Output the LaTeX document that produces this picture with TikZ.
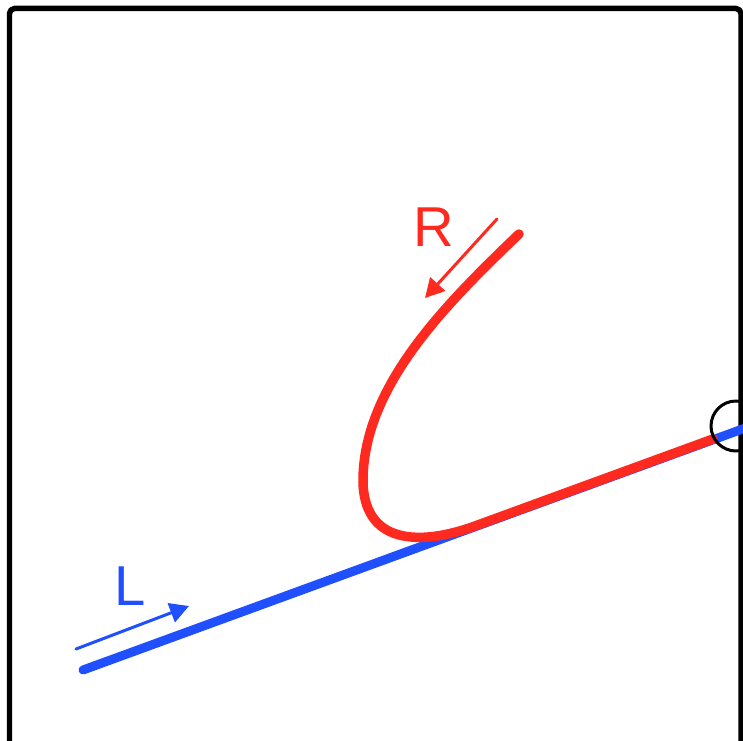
\documentclass[tikz,border=0pt]{standalone}
\usepackage{fontspec}
\setsansfont{Liberation Sans}
\usetikzlibrary{arrows.meta}
\definecolor{cblue}{HTML}{1F4FFF}
\definecolor{cred}{HTML}{FF2A1F}
\tikzset{
  every picture/.style={font=\sffamily, line cap=round, line join=round},
  frame/.style={draw=black, line width=0.11cm, rounded corners=0.1cm},
  track/.style={draw=#1, line width=0.18cm},
  dirarrow/.style={draw=#1, line width=0.06cm, -{Triangle[length=3.8mm, width=4mm]}},
  label/.style={text=#1, font=\sffamily\fontsize{32}{32}\selectfont, inner sep=0pt},
  joint/.style={draw=black, line width=0.06cm},
}

\begin{document}
\begin{tikzpicture}[x=0.02cm, y=-0.02cm]
  \useasboundingbox (0,0) rectangle (743,740);
  \draw[frame] (9.5,8.5) rectangle (741,780);
  % end points of the two strands
  \coordinate (lstart) at (83,670);
  \coordinate (lend) at (748,427);
  \coordinate (rstart) at (519,234);
  \coordinate (rturn) at (363,478);
  \coordinate (rmeet) at (475,526);
  \coordinate (rend) at (713,439);
  \draw[track=cblue] (lstart) -- (lend);
  \draw[track=cred, line width=0.19cm] (rstart) .. controls (445,305) and (365,385) .. (rturn)
    .. controls (362,545) and (420,546) .. (rmeet) -- (rend);
  \draw[joint] (736,426) circle (25);
  % direction labels
  \node[label=cblue] (ltext) at (130,586) {L};
  \coordinate (la) at (76,649);
  \coordinate (lb) at (189,606);
  \draw[dirarrow=cblue] (la) -- (lb);
  \node[label=cred] (rtext) at (434,227) {R};
  \coordinate (ra) at (497,219);
  \coordinate (rb) at (425,298);
  \draw[dirarrow=cred] (ra) -- (rb);
\end{tikzpicture}
\end{document}
